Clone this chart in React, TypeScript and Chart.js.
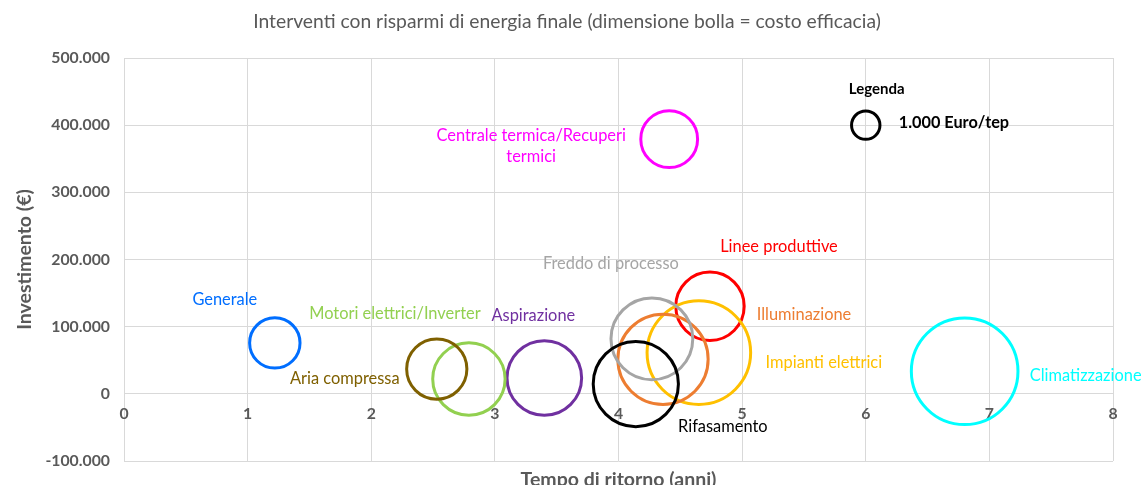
import React, { useEffect, useRef } from 'react';
import { Chart, registerables } from 'chart.js';

Chart.register(...registerables);

// ---------- DATA ----------
const chartTitle = 'Interventi con risparmi di energia finale (dimensione bolla = costo efficacia)';
const xAxisTitle = 'Tempo di ritorno (anni)';
const yAxisTitle = 'Investimento (€)';

const categories = [
  'Generale',
  'Aria compressa',
  'Motori elettrici/Inverter',
  'Aspirazione',
  'Rifasamento',
  'Freddo di processo',
  'Illuminazione',
  'Impianti elettrici',
  'Linee produttive',
  'Centrale termica/Recuperi termici',
  'Climatizzazione',
];
// payback time (years)
const paybackYears = [1.22, 2.53, 2.79, 3.4, 4.14, 4.27, 4.36, 4.65, 4.74, 4.41, 6.8];
// investment (€)
const investment = [75800, 36900, 22000, 23500, 14600, 81900, 51400, 61400, 130300, 379200, 33600];
// cost effectiveness (Euro/tep) -> bubble size
const costEffectiveness = [3150, 4500, 6500, 6900, 9000, 8300, 10100, 13300, 5800, 4000, 14100];

const legendTitle = 'Legenda';
const legendCaption = '1.000 Euro/tep';
const legendX = [6];
const legendY = [400000];
const legendCost = [1000];

const xTickValues = [0, 1, 2, 3, 4, 5, 6, 7, 8];
const yTickValues = [-100000, 0, 100000, 200000, 300000, 400000, 500000];

// ---------- STYLES ----------
const seriesColors = [
  '#006EFF',
  '#7F6000',
  '#92D050',
  '#7030A0',
  '#000000',
  '#A5A5A5',
  '#ED7D31',
  '#FFC000',
  '#FF0000',
  '#FF00FF',
  '#00FFFF',
];
// label lines and pixel offsets from bubble center
const labelLines: string[][] = [
  ['Generale'],
  ['Aria compressa'],
  ['Motori elettrici/Inverter'],
  ['Aspirazione'],
  ['Rifasamento'],
  ['Freddo di processo'],
  ['Illuminazione'],
  ['Impianti elettrici'],
  ['Linee produttive'],
  ['Centrale termica/Recuperi', 'termici'],
  ['Climatizzazione'],
];
const labelOffsets: [number, number][] = [
  [-50, -43],
  [-92, 10],
  [-74, -65],
  [-11, -62],
  [87, 43],
  [-41, -75],
  [141, -45],
  [125, 10],
  [69, -60],
  [-138, 7],
  [121, 4],
];
const legendRadiusPx = 14.2; // pixel radius that 1000 Euro/tep gets
const FONT = 'Lato, "Open Sans", sans-serif';
const GRAY = '#595959';
const GRID = '#D9D9D9';

const radiusFor = (cost: number) => legendRadiusPx * Math.sqrt(cost / legendCost[0]);

const fmtThousands = (v: number) => {
  const s = Math.round(Math.abs(v)).toString().replace(/\B(?=(\d{3})+(?!\d))/g, '.');
  return (v < 0 ? '-' : '') + s;
};

const labelPlugin = {
  id: 'bubbleLabels',
  afterDatasetsDraw(chart: any) {
    const ctx = chart.ctx;
    ctx.save();
    ctx.textAlign = 'center';
    ctx.textBaseline = 'middle';
    ctx.font = `16.4px ${FONT}`;
    categories.forEach((_, i) => {
      const el = chart.getDatasetMeta(i).data[0];
      if (!el) return;
      const lines = labelLines[i];
      const [dx, dy] = labelOffsets[i];
      ctx.fillStyle = seriesColors[i];
      const lh = 20.6;
      const y0 = el.y + dy - ((lines.length - 1) * lh) / 2;
      lines.forEach((ln, k) => ctx.fillText(ln, el.x + dx, y0 + k * lh));
    });
    // legend texts
    const lel = chart.getDatasetMeta(categories.length).data[0];
    if (lel) {
      ctx.fillStyle = '#000000';
      ctx.font = `bold 15px ${FONT}`;
      ctx.fillText(legendTitle, lel.x + 11, lel.y - 36);
      ctx.textAlign = 'left';
      ctx.font = `bold 16.3px ${FONT}`;
      ctx.fillText(legendCaption, lel.x + 33, lel.y - 2);
    }
    ctx.restore();
  },
  afterDraw(chart: any) {
    const ctx = chart.ctx;
    const ca = chart.chartArea;
    ctx.save();
    ctx.textAlign = 'center';
    ctx.textBaseline = 'middle';
    ctx.fillStyle = GRAY;
    ctx.font = `19.3px ${FONT}`;
    ctx.fillText(chartTitle, 567, 22);
    ctx.font = `bold 19.5px ${FONT}`;
    ctx.fillText(xAxisTitle, (ca.left + ca.right) / 2, 480);
    ctx.translate(25, (ca.top + ca.bottom) / 2);
    ctx.rotate(-Math.PI / 2);
    ctx.fillText(yAxisTitle, 0, 0);
    ctx.restore();
  },
};

export default function App() {
  const canvasRef = useRef<HTMLCanvasElement | null>(null);

  useEffect(() => {
    const canvas = canvasRef.current;
    if (!canvas) return;

    const datasets: any[] = categories.map((name, i) => ({
      label: name,
      data: [{ x: paybackYears[i], y: investment[i], r: radiusFor(costEffectiveness[i]) }],
      borderColor: seriesColors[i],
      backgroundColor: 'rgba(0,0,0,0)',
      borderWidth: 3,
      hoverBorderWidth: 3,
      hoverRadius: 0,
      clip: false,
    }));
    datasets.push({
      label: legendCaption,
      data: legendX.map((x, i) => ({ x, y: legendY[i], r: radiusFor(legendCost[i]) })),
      borderColor: '#000000',
      backgroundColor: 'rgba(0,0,0,0)',
      borderWidth: 3,
      hoverRadius: 0,
      clip: false,
    });

    const chart = new Chart(canvas, {
      type: 'bubble',
      data: { datasets },
      options: {
        responsive: false,
        animation: false,
        devicePixelRatio: 1,
        layout: { autoPadding: false, padding: { left: 0, right: 29, top: 58, bottom: 24 } },
        plugins: {
          legend: { display: false },
          tooltip: { enabled: false },
          title: { display: false },
        },
        events: [],
        scales: {
          x: {
            type: 'linear',
            position: { y: 0 } as any,
            min: xTickValues[0],
            max: xTickValues[xTickValues.length - 1],
            afterBuildTicks: (s: any) => {
              s.ticks = xTickValues.map((v) => ({ value: v }));
            },
            ticks: {
              color: GRAY,
              font: { family: FONT, size: 15.8, weight: 'bold' },
              padding: 11,
              maxRotation: 0,
              autoSkip: false,
            },
            grid: { color: GRID, lineWidth: 1, drawTicks: false },
            border: { display: false },
          },
          y: {
            type: 'linear',
            min: yTickValues[0],
            max: yTickValues[yTickValues.length - 1],
            afterBuildTicks: (s: any) => {
              s.ticks = yTickValues.map((v) => ({ value: v }));
            },
            afterFit: (s: any) => {
              s.width = 124;
            },
            ticks: {
              color: GRAY,
              font: { family: FONT, size: 15.8, weight: 'bold' },
              padding: 14,
              callback: (v: any) => fmtThousands(Number(v)),
            },
            grid: { color: GRID, lineWidth: 1, drawTicks: false },
            border: { display: false },
          },
        },
      },
      plugins: [labelPlugin],
    });

    return () => chart.destroy();
  }, []);

  return (
    <div style={{ position: 'absolute', left: 0, top: 0, width: 1142, height: 485, background: '#fff' }}>
      <canvas ref={canvasRef} width={1142} height={485} style={{ display: 'block', width: 1142, height: 485 }} />
    </div>
  );
}
